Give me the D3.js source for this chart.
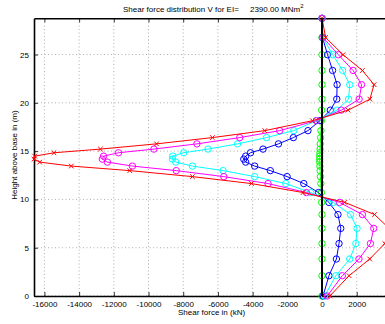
<!DOCTYPE html>
<html>
<head>
<meta charset="utf-8">
<script src="https://cdn.jsdelivr.net/npm/d3@7"></script>
<style>
  body { margin: 0; background: #fff; overflow: hidden; }
  svg text { font-family: "Liberation Sans", Arial, Helvetica, sans-serif; fill: #000; }
</style>
</head>
<body>
<svg id="chart" width="385" height="324"></svg>
<script>
// Node heights above base (m), top to bottom
const heights = [28.75, 26.76, 24.98, 23.35, 21.88, 20.38, 19.24, 18.15, 17.12, 16.40,
                 15.75, 15.21, 14.83, 14.48, 14.17, 13.86, 13.45, 12.98, 12.36, 11.64,
                 10.71, 9.69, 8.43, 7.00, 5.43, 3.83, 2.10, 0];

// Shear force V (kN) at each node, one array per load case
const shearGreen = [0, 0, 0, 0, 0, 0, -20, -40, -60, -80,
                    -100, -110, -120, -130, -130, -130, -120, -110, -90, -70,
                    -40, -20, 0, 0, 0, 0, 0, 0];
const shearBlue = [0, 30, 320, 610, 870, 850, 480, -120, -810, -1650,
                   -2510, -3400, -4120, -4400, -4510, -4400, -3880, -2980, -2010, -1050,
                   -200, 400, 920, 1080, 980, 830, 400, 60];
const shearCyan = [0, 40, 620, 1190, 1600, 1530, 860, -330, -1630, -3200,
                   -4870, -6570, -7970, -8600, -8620, -8430, -7470, -5700, -3880, -2090,
                   -650, 650, 1640, 2020, 1950, 1600, 800, 150];
const shearMagenta = [0, 60, 940, 1790, 2280, 2140, 1110, -330, -2440, -4740,
                      -7210, -9690, -11730, -12590, -12660, -12370, -10930, -8400, -5660, -3110,
                      -900, 1010, 2330, 2980, 2790, 2130, 1170, 300];
const shearRed = [0, 210, 1210, 2330, 3000, 2760, 1500, -550, -3300, -6320,
                  -9540, -12770, -15450, -16560, -16600, -16270, -14450, -11080, -7470, -4070,
                  -1090, 1310, 3030, 3870, 3620, 2750, 1560, 450];

// Axis ticks
const xTicks = [-16000, -14000, -12000, -10000, -8000, -6000, -4000, -2000, 0, 2000];
const yTicks = [0, 5, 10, 15, 20, 25];

const titleText = "Shear force distribution V for EI=     2390.00 MNm";
const titleSup = "2";
const xLabel = "Shear force in (kN)";
const yLabel = "Height above base in (m)";

const series = [
  { values: shearGreen, color: "#00ff00", marker: "circle" },
  { values: shearBlue, color: "#0000ff", marker: "circle" },
  { values: shearCyan, color: "#00ffff", marker: "circle" },
  { values: shearMagenta, color: "#ff00ff", marker: "circle" },
  { values: shearRed, color: "#ff0000", marker: "cross" }
];

const svg = d3.select("#chart");

const xMin = d3.min(series, s => d3.min(s.values));
const xMax = d3.max(series, s => d3.max(s.values));
const x = d3.scaleLinear().domain([xMin, xMax]).range([34, 34 + (xMax - xMin) * 0.01735]);
const y = d3.scaleLinear().domain([0, d3.max(heights)]).range([296, 18.3]);

const [x0, x1] = x.range();
const [yb, yt] = y.range();

// dotted grid
const grid = svg.append("g").attr("stroke", "#9a9a9a").attr("stroke-width", 0.8)
  .attr("stroke-dasharray", "1,2.5");
grid.selectAll("line.gx").data(xTicks).join("line").attr("class", "gx")
  .attr("x1", d => x(d)).attr("x2", d => x(d)).attr("y1", yb).attr("y2", yt);
grid.selectAll("line.gy").data(yTicks).join("line").attr("class", "gy")
  .attr("x1", x0).attr("x2", x1).attr("y1", d => y(d)).attr("y2", d => y(d));

// axes with inward ticks
const fmt = d => String(d);
const gx = svg.append("g").attr("transform", `translate(0,${yb})`)
  .call(d3.axisBottom(x).tickValues(xTicks).tickFormat(fmt).tickSize(-4).tickSizeOuter(0).tickPadding(5));
const gxt = svg.append("g").attr("transform", `translate(0,${yt})`)
  .call(d3.axisTop(x).tickValues(xTicks).tickFormat("").tickSize(-4).tickSizeOuter(0));
const gy = svg.append("g").attr("transform", `translate(${x0},0)`)
  .call(d3.axisLeft(y).tickValues(yTicks).tickFormat(fmt).tickSize(-4).tickSizeOuter(0).tickPadding(5));
const gyr = svg.append("g").attr("transform", `translate(${x1},0)`)
  .call(d3.axisRight(y).tickValues(yTicks).tickFormat("").tickSize(-4).tickSizeOuter(0));

[gx, gxt, gy, gyr].forEach(g => {
  g.select(".domain").attr("stroke", "#000").attr("stroke-width", 1.6);
  g.selectAll(".tick line").attr("stroke", "#000").attr("stroke-width", 0.8);
  g.selectAll(".tick text").attr("font-size", 8).attr("fill", "#000")
    .style("font-family", "'Liberation Sans', Arial, sans-serif");
});

// series lines and markers
const line = d3.line().x(d => x(d.v)).y(d => y(d.h));
series.forEach(s => {
  const pts = heights.map((h, i) => ({ h, v: s.values[i] }));
  const g = svg.append("g");
  g.append("path").datum(pts).attr("d", line)
    .attr("fill", "none").attr("stroke", s.color).attr("stroke-width", 1);
  if (s.marker === "circle") {
    g.selectAll("circle").data(pts).join("circle")
      .attr("cx", d => x(d.v)).attr("cy", d => y(d.h)).attr("r", 3.2)
      .attr("fill", "none").attr("stroke", s.color).attr("stroke-width", 1);
  } else {
    const m = 2.3;
    g.selectAll("path.mk").data(pts).join("path").attr("class", "mk")
      .attr("d", d => {
        const cx = x(d.v), cy = y(d.h);
        return `M${cx - m},${cy - m}L${cx + m},${cy + m}M${cx - m},${cy + m}L${cx + m},${cy - m}`;
      })
      .attr("fill", "none").attr("stroke", s.color).attr("stroke-width", 1);
  }
});

// zero reference line
svg.append("line")
  .attr("x1", x(0)).attr("x2", x(0)).attr("y1", yb).attr("y2", yt)
  .attr("stroke", "#000").attr("stroke-width", 2);

// title and axis labels
const title = svg.append("text").attr("x", 123).attr("y", 11.5)
  .attr("font-size", 8).attr("xml:space", "preserve").style("white-space", "pre");
title.append("tspan").text(titleText);
title.append("tspan").attr("dy", -4).attr("font-size", 6).text(titleSup);

svg.append("text").attr("x", (x0 + x1) / 2).attr("y", 315)
  .attr("text-anchor", "middle").attr("font-size", 8).text(xLabel);

svg.append("text").attr("transform", `translate(17,155) rotate(-90)`)
  .attr("text-anchor", "middle").attr("font-size", 8).text(yLabel);
</script>
</body>
</html>
